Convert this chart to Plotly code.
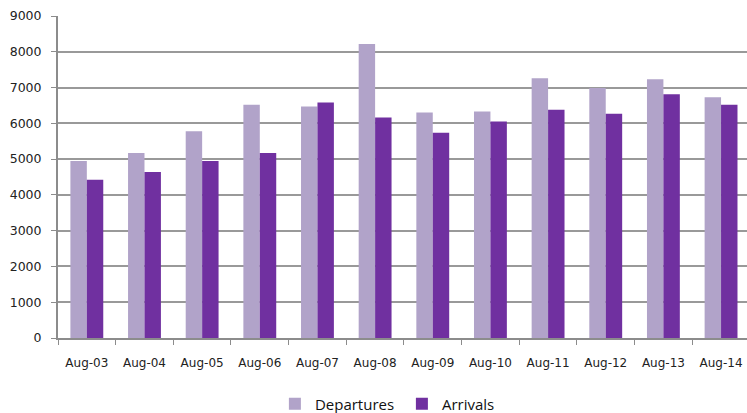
import plotly.graph_objects as go

categories = ["Aug-03", "Aug-04", "Aug-05", "Aug-06", "Aug-07", "Aug-08",
              "Aug-09", "Aug-10", "Aug-11", "Aug-12", "Aug-13", "Aug-14"]
departures = [4950, 5170, 5780, 6520, 6470, 8220, 6300, 6330, 7260, 6990, 7230, 6730]
arrivals = [4420, 4640, 4950, 5170, 6580, 6160, 5740, 6050, 6380, 6270, 6810, 6520]
y_ticks = [0, 1000, 2000, 3000, 4000, 5000, 6000, 7000, 8000, 9000]

fig = go.Figure()
fig.add_trace(go.Bar(x=categories, y=departures, name="Departures",
                     marker=dict(color="#b1a3c9", line=dict(width=0))))
fig.add_trace(go.Bar(x=categories, y=arrivals, name="Arrivals",
                     marker=dict(color="#7030a0", line=dict(width=0))))

fig.update_layout(
    width=747, height=413,
    margin=dict(l=58, r=0, t=16, b=75, autoexpand=False),
    paper_bgcolor="white", plot_bgcolor="white",
    barmode="group", bargap=0.43, bargroupgap=0,
    font=dict(family="DejaVu Sans", size=12, color="#222"),
    legend=dict(orientation="h", xref="container", yref="container",
                x=0.368, xanchor="left", y=0.022, yanchor="middle",
                font=dict(family="Open Sans", size=15, color="#111"),
                entrywidth=82, entrywidthmode="pixels", traceorder="normal"),
    xaxis=dict(type="category", range=[-0.5, 11.45], showgrid=False, automargin=False,
               showline=True, linecolor="#8c8c8c", linewidth=2,
               ticks="outside", tickson="boundaries", ticklen=5, tickcolor="#8c8c8c",
               ticklabelstandoff=13,
               tickfont=dict(family="DejaVu Sans", size=12, color="#222")),
    yaxis=dict(range=[0, 9000], tickvals=y_ticks, showgrid=True, automargin=False,
               gridcolor="#999999", gridwidth=1.5,
               showline=True, linecolor="#8c8c8c", linewidth=2,
               ticks="outside", ticklen=5, tickcolor="#8c8c8c",
               ticklabelstandoff=7,
               tickfont=dict(family="DejaVu Sans", size=12.5, color="#222"),
               zeroline=False),
)

fig.write_html("out.html", config={"displayModeBar": False},
               post_script="document.body.style.margin='0';document.body.style.overflow='hidden';")
